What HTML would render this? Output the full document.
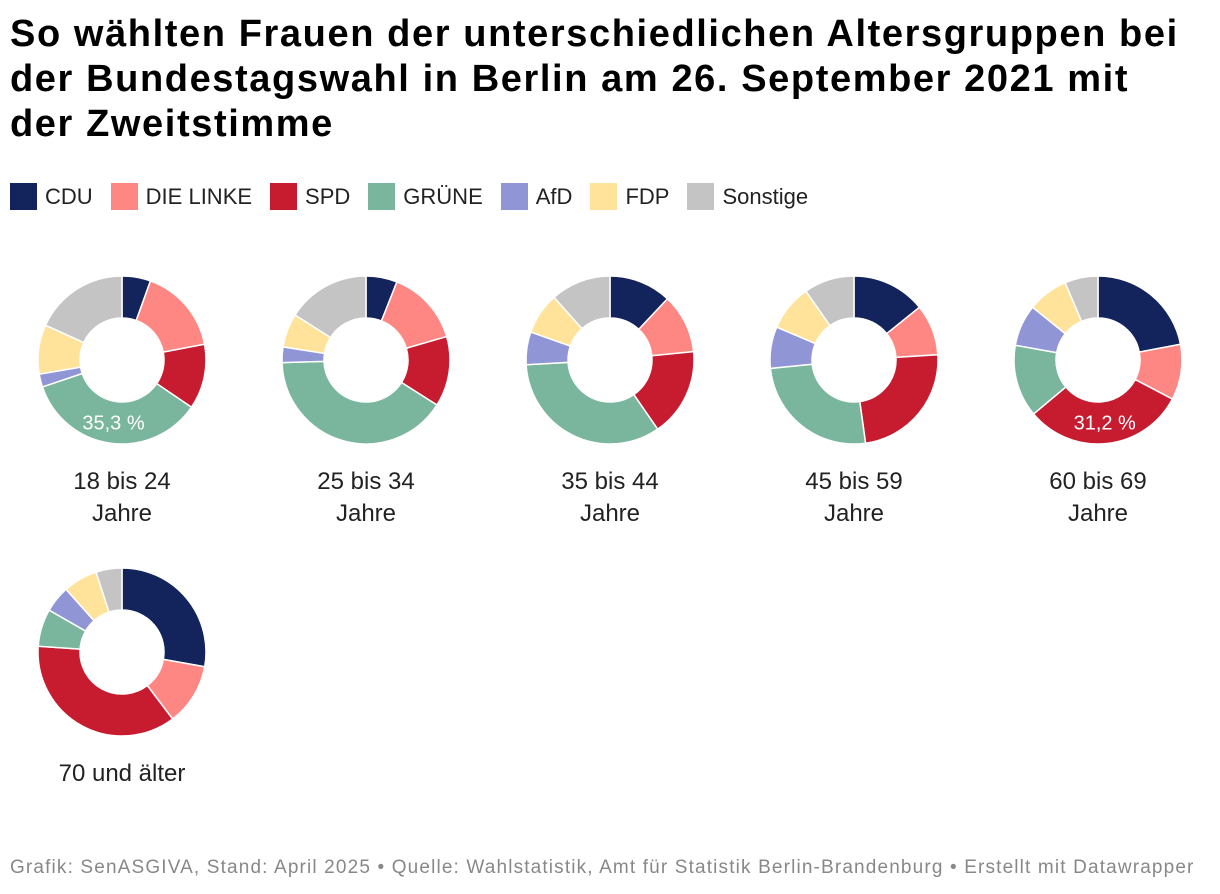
<!DOCTYPE html>
<html><head><meta charset="utf-8">
<style>
body{margin:0;width:1220px;height:894px;background:#fff;font-family:"Liberation Sans",sans-serif;overflow:hidden;position:relative}
h1{position:absolute;left:10px;top:12px;margin:0;font-size:38px;line-height:45px;font-weight:bold;color:#000;width:1210px;letter-spacing:1.6px;white-space:nowrap}
.legend{position:absolute;left:10px;top:183px;display:flex;font-size:22px;color:#222}
.li{display:flex;align-items:center;margin-right:18px}
.sw{width:27px;height:27px;margin-right:8px}
.foot{position:absolute;left:10px;top:857px;font-size:19px;color:#888;letter-spacing:1.15px;white-space:nowrap}
svg{position:absolute;left:0;top:0}
</style></head><body>
<h1>So wählten Frauen der unterschiedlichen Altersgruppen bei<br>der Bundestagswahl in Berlin am 26. September 2021 mit<br>der Zweitstimme</h1>
<div class="legend" id="legend"></div>
<svg id="chart" width="1220" height="894"></svg>
<div class="foot">Grafik: SenASGIVA, Stand: April 2025 • Quelle: Wahlstatistik, Amt für Statistik Berlin-Brandenburg • Erstellt mit Datawrapper</div>
<script>
const parties=["CDU","DIE LINKE","SPD","GRÜNE","AfD","FDP","Sonstige"];
const colors=["#13235b","#ff8783","#c71b30","#7ab69e","#9095d6","#ffe39a","#c4c4c4"];
const groups=["18 bis 24|Jahre","25 bis 34|Jahre","35 bis 44|Jahre","45 bis 59|Jahre","60 bis 69|Jahre","70 und älter"];
const v1=[5.5,16.5,12.5,35.3,2.5,9.5,18.2];
const v2=[6,14.5,13.5,40.5,3,6.5,16];
const v3=[12,11.4,17,33.7,6.3,8,11.6];
const v4=[14.2,9.8,23.8,25.6,8,8.9,9.7];
const v5=[22,10.7,31.2,13.9,8,7.8,6.4];
const v6=[27.8,11.9,36.4,7.2,5.1,6.6,5];
const values=[v1,v2,v3,v4,v5,v6];
const labelled=[3,-1,-1,-1,2,-1];
const NS="http://www.w3.org/2000/svg";
const svg=document.getElementById('chart');
const leg=document.getElementById('legend');
parties.forEach((p,i)=>{const d=document.createElement('div');d.className='li';


d.innerHTML='<div class="sw" style="background:'+colors[i]+'"></div>'+p;leg.appendChild(d);});
const R=84,r=42;
function pt(cx,cy,rad,a){return [cx+rad*Math.sin(a),cy-rad*Math.cos(a)];}
values.forEach((vals,g)=>{
 const cx=122+244*(g%5), cy=360+292*Math.floor(g/5);
 const tot=vals.reduce((a,b)=>a+b,0);let acc=0;
 vals.forEach((v,i)=>{
  const a0=acc/tot*2*Math.PI;acc+=v;const a1=acc/tot*2*Math.PI;
  const lg=(a1-a0)>Math.PI?1:0;
  const p0=pt(cx,cy,R,a0),p1=pt(cx,cy,R,a1),q1=pt(cx,cy,r,a1),q0=pt(cx,cy,r,a0);
  const path=document.createElementNS(NS,'path');
  path.setAttribute('d',`M${p0}A${R},${R} 0 ${lg} 1 ${p1}L${q1}A${r},${r} 0 ${lg} 0 ${q0}Z`);
  path.setAttribute('fill',colors[i]);path.setAttribute('stroke','#fff');path.setAttribute('stroke-width','1.5');
  
  
  svg.appendChild(path);
  if(labelled[g]===i){
   const m=pt(cx,cy,63,(a0+a1)/2);
   const t=document.createElementNS(NS,'text');
   t.setAttribute('x',m[0]);t.setAttribute('y',m[1]+7);t.setAttribute('text-anchor','middle');
   t.setAttribute('fill','#fff');t.setAttribute('font-size','20');
   
   
   t.textContent=v.toFixed(1).replace('.',',')+' %';svg.appendChild(t);
  }
 });
 groups[g].split('|').forEach((line,k)=>{
  const t=document.createElementNS(NS,'text');
  t.setAttribute('x',cx);t.setAttribute('y',cy+129+k*32);t.setAttribute('text-anchor','middle');
  t.setAttribute('font-size','24');t.setAttribute('fill','#222');
  
  
  t.textContent=line;svg.appendChild(t);
 });
});
</script>
</body></html>
